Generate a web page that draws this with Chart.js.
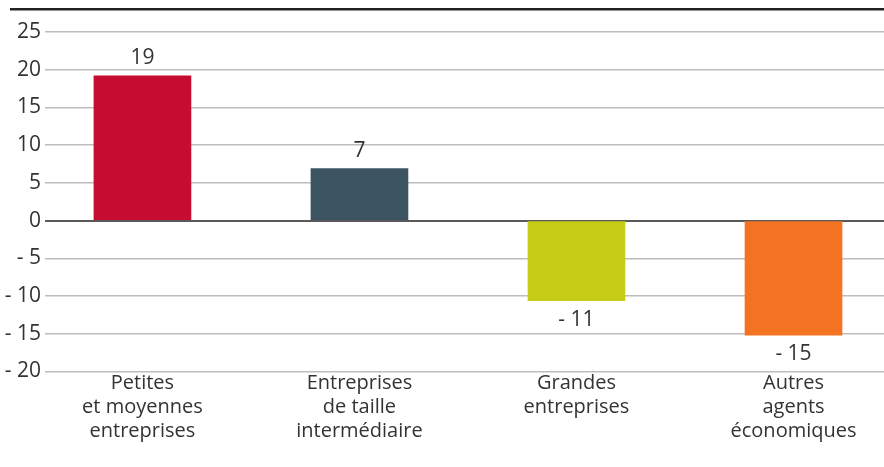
<!DOCTYPE html>
<html>
<head>
<meta charset="utf-8">
<script src="https://cdn.jsdelivr.net/npm/chart.js@4"></script>
<style>
  html, body { margin: 0; padding: 0; background: #fff; overflow: hidden; }
  #wrap { width: 884px; height: 467px; position: relative; }
</style>
</head>
<body>
<div id="wrap"><canvas id="chart"></canvas></div>
<script>
// données
const categories = [
    ['Petites', 'et moyennes', 'entreprises'],
    ['Entreprises', 'de taille', 'intermédiaire'],
    ['Grandes', 'entreprises'],
    ['Autres', 'agents', 'économiques']
];
const values = [19.2, 6.9, -10.6, -15.2];
const valueLabels = ['19', '7', '- 11', '- 15'];
const barColors = ['#c60c30', '#3c5361', '#c7cd17', '#f47322'];
const yMin = -20;
const yMax = 25;
const yStep = 5;

const FONT = '"Open Sans", "Noto Sans", sans-serif';
const TEXT = '#333333';

// filet noir en haut
const topRule = {
    id: 'topRule',
    beforeDraw(chart) {
        const ctx = chart.ctx;
        ctx.save();
        ctx.fillStyle = '#222222';
        ctx.fillRect(10, 8, chart.width - 10, 2.5);
        ctx.restore();
    }
};

// étiquettes de valeur au-dessus / en dessous des barres
const valueLabelPlugin = {
    id: 'valueLabels',
    afterDatasetsDraw(chart) {
        const ctx = chart.ctx;
        const meta = chart.getDatasetMeta(0);
        ctx.save();
        ctx.font = '21px ' + FONT;
        ctx.fillStyle = TEXT;
        ctx.textAlign = 'center';
        ctx.textBaseline = 'middle';
        meta.data.forEach((bar, i) => {
            const y = values[i] >= 0 ? bar.y - 18 : bar.y + 19;
            ctx.fillText(valueLabels[i], bar.x, y);
        });
        ctx.restore();
    }
};

const ctx = document.getElementById('chart').getContext('2d');
new Chart(ctx, {
    type: 'bar',
    data: {
        datasets: [{
            data: values.map((v, i) => ({ x: i, y: v })),
            backgroundColor: barColors,
            borderWidth: 0,
            barThickness: 97
        }]
    },
    options: {
        responsive: true,
        maintainAspectRatio: false,
        animation: false,
        layout: { padding: { top: 32, right: 0, left: 0, bottom: 0 } },
        plugins: {
            legend: { display: false },
            tooltip: { enabled: false }
        },
        scales: {
            x: {
                type: 'linear',
                offset: false,
                min: -0.449,
                max: 3.417,
                grid: { display: false, drawTicks: false },
                border: { display: false },
                afterBuildTicks: (scale) => {
                    scale.ticks = categories.map((c, i) => ({ value: i }));
                },
                afterFit: (scale) => { scale.height = 95.5; },
                ticks: {
                    autoSkip: false,
                    maxRotation: 0,
                    padding: 0,
                    color: TEXT,
                    font: { family: FONT, size: 20, lineHeight: 1.2 },
                    callback: (v) => categories[v]
                }
            },
            y: {
                min: yMin,
                max: yMax,
                grid: {
                    drawTicks: false,
                    color: (c) => c.tick.value === 0 ? '#5a5a5a' : '#bdbdbd',
                    lineWidth: (c) => c.tick.value === 0 ? 2 : 1.5
                },
                border: { display: false },
                afterFit: (scale) => { scale.width = 45; },
                ticks: {
                    stepSize: yStep,
                    padding: 4,
                    color: TEXT,
                    font: { family: FONT, size: 21 },
                    callback: (v) => v < 0 ? '- ' + Math.abs(v) : String(v)
                }
            }
        }
    },
    plugins: [topRule, valueLabelPlugin]
});
</script>
</body>
</html>
